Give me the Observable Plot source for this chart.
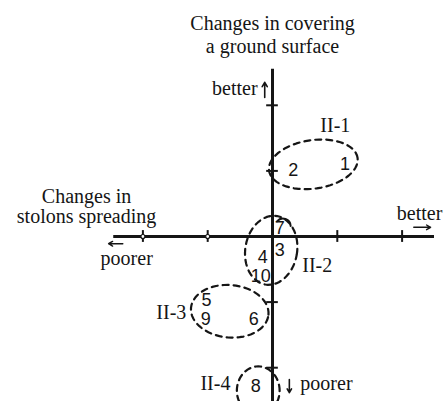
<!DOCTYPE html>
<html>
<head>
<meta charset="utf-8">
<script src="https://cdn.jsdelivr.net/npm/d3@7"></script>
<script src="https://cdn.jsdelivr.net/npm/@observablehq/plot@0.6"></script>
<style>
  html, body { margin: 0; padding: 0; background: #fff; }
  #chart svg { display: block; }
</style>
</head>
<body>
<div id="chart"></div>
<script>
// Cultivar numbers and their changes (stolon spreading = x, ground covering = y)
const ids = ["1", "2", "3", "4", "5", "6", "7", "8", "9", "10"];
const stolons = [1.12, 0.32, 0.11, -0.15, -1.02, -0.29, 0.11, -0.26, -1.03, -0.18];
const covering = [1.10, 1.01, -0.21, -0.32, -0.97, -1.26, 0.12, -2.28, -1.26, -0.61];

// Groups (dashed outlines)
const groups = ["II-1", "II-2", "II-3", "II-4"];
const groupCx = [0.63, -0.02, -0.66, -0.22];
const groupCy = [1.10, -0.21, -1.14, -2.35];
const groupRx = [0.69, 0.40, 0.60, 0.33];
const groupRy = [0.37, 0.53, 0.40, 0.37];
const groupTilt = [8, -10, -5, 0];

// Axis ticks
const ticks = [-2, -1, 1, 2];

const points = ids.map((id, i) => ({id, x: stolons[i], y: covering[i]}));

const outline = [];
groups.forEach((g, i) => {
  const th = groupTilt[i] * Math.PI / 180;
  const n = 60;
  for (let k = 0; k < n; k++) {
    const a = 2 * Math.PI * k / n;
    const ex = groupRx[i] * Math.cos(a), ey = groupRy[i] * Math.sin(a);
    outline.push({g, x: groupCx[i] + ex * Math.cos(th) - ey * Math.sin(th),
                     y: groupCy[i] + ex * Math.sin(th) + ey * Math.cos(th)});
  }
});

const serif = "Liberation Serif";
const sans = "Liberation Sans";
const ink = "#151515";

const chart = Plot.plot({
  width: 445,
  height: 401,
  marginLeft: 110,
  marginRight: 11,
  marginTop: 72,
  marginBottom: 1,
  x: {domain: [-2.5, 2.5], axis: null},
  y: {domain: [-2.5, 2.5], axis: null},
  style: {background: "#fff", overflow: "visible"},
  marks: [
    // axes
    Plot.ruleY([0], {x1: -2.45, x2: 2.5, stroke: ink, strokeWidth: 3.2}),
    Plot.ruleX([0], {y1: -2.6, y2: 2.55, stroke: ink, strokeWidth: 3}),
    Plot.ruleX(ticks, {x: d => d, y1: -0.09, y2: 0.09, stroke: ink, strokeWidth: 2}),
    Plot.ruleY(ticks, {y: d => d, x1: -0.09, x2: 0.09, stroke: ink, strokeWidth: 2}),
    Plot.dot([-2, -1], {x: d => d, y: () => 0, r: 2, fill: "#fff", stroke: ink, strokeWidth: 1.2}),
    // direction arrows
    Plot.arrow([0], {x1: 2.18, y1: 0.14, x2: 2.44, y2: 0.14, stroke: ink, strokeWidth: 1.4, headLength: 5}),
    Plot.arrow([0], {x1: -2.31, y1: -0.11, x2: -2.53, y2: -0.11, stroke: ink, strokeWidth: 1.4, headLength: 5}),
    Plot.arrow([0], {x1: -0.12, y1: 2.12, x2: -0.12, y2: 2.35, stroke: ink, strokeWidth: 1.6, headLength: 5}),
    Plot.arrow([0], {x1: 0.26, y1: -2.18, x2: 0.26, y2: -2.38, stroke: ink, strokeWidth: 1.6, headLength: 5}),
    // small arc over 7
    Plot.arrow([0], {x1: 0.07, y1: 0.23, x2: 0.28, y2: 0.16, bend: 70, headLength: 0, stroke: ink, strokeWidth: 2}),
    // group outlines
    Plot.line(outline, {x: "x", y: "y", z: "g", curve: "linear-closed", stroke: ink, strokeWidth: 2.2, strokeDasharray: "6,5"}),
    // points (numbers)
    Plot.text(points, {x: "x", y: "y", text: "id", fontFamily: sans, fontSize: 18, fill: ink}),
    // group labels
    Plot.text(["II-1"], {x: () => 0.97, y: () => 1.69, fontFamily: serif, fontSize: 20, fill: ink}),
    Plot.text(["II-2"], {x: () => 0.69, y: () => -0.44, fontFamily: serif, fontSize: 20, fill: ink}),
    Plot.text(["II-3"], {x: () => -1.33, y: () => -1.16, textAnchor: "end", fontFamily: serif, fontSize: 20, fill: ink}),
    Plot.text(["II-4"], {x: () => -0.65, y: () => -2.24, textAnchor: "end", fontFamily: serif, fontSize: 20, fill: ink}),
    // axis titles and direction words
    Plot.text(["Changes in covering\na ground surface"], {x: () => 0, y: () => 2.80, lineAnchor: "bottom", lineHeight: 1.15, fontFamily: serif, fontSize: 20, fill: ink}),
    Plot.text(["Changes in\nstolons spreading"], {x: () => -2.87, y: () => 0.20, lineAnchor: "bottom", lineHeight: 1.0, fontFamily: serif, fontSize: 20, fill: ink}),
    Plot.text(["poorer"], {x: () => -2.25, y: () => -0.34, fontFamily: serif, fontSize: 20, fill: ink}),
    Plot.text(["better"], {x: () => 2.27, y: () => 0.35, fontFamily: serif, fontSize: 20, fill: ink}),
    Plot.text(["better"], {x: () => -0.23, y: () => 2.26, textAnchor: "end", fontFamily: serif, fontSize: 20, fill: ink}),
    Plot.text(["poorer"], {x: () => 0.43, y: () => -2.24, textAnchor: "start", fontFamily: serif, fontSize: 20, fill: ink})
  ]
});
document.getElementById("chart").appendChild(chart);
</script>
</body>
</html>
